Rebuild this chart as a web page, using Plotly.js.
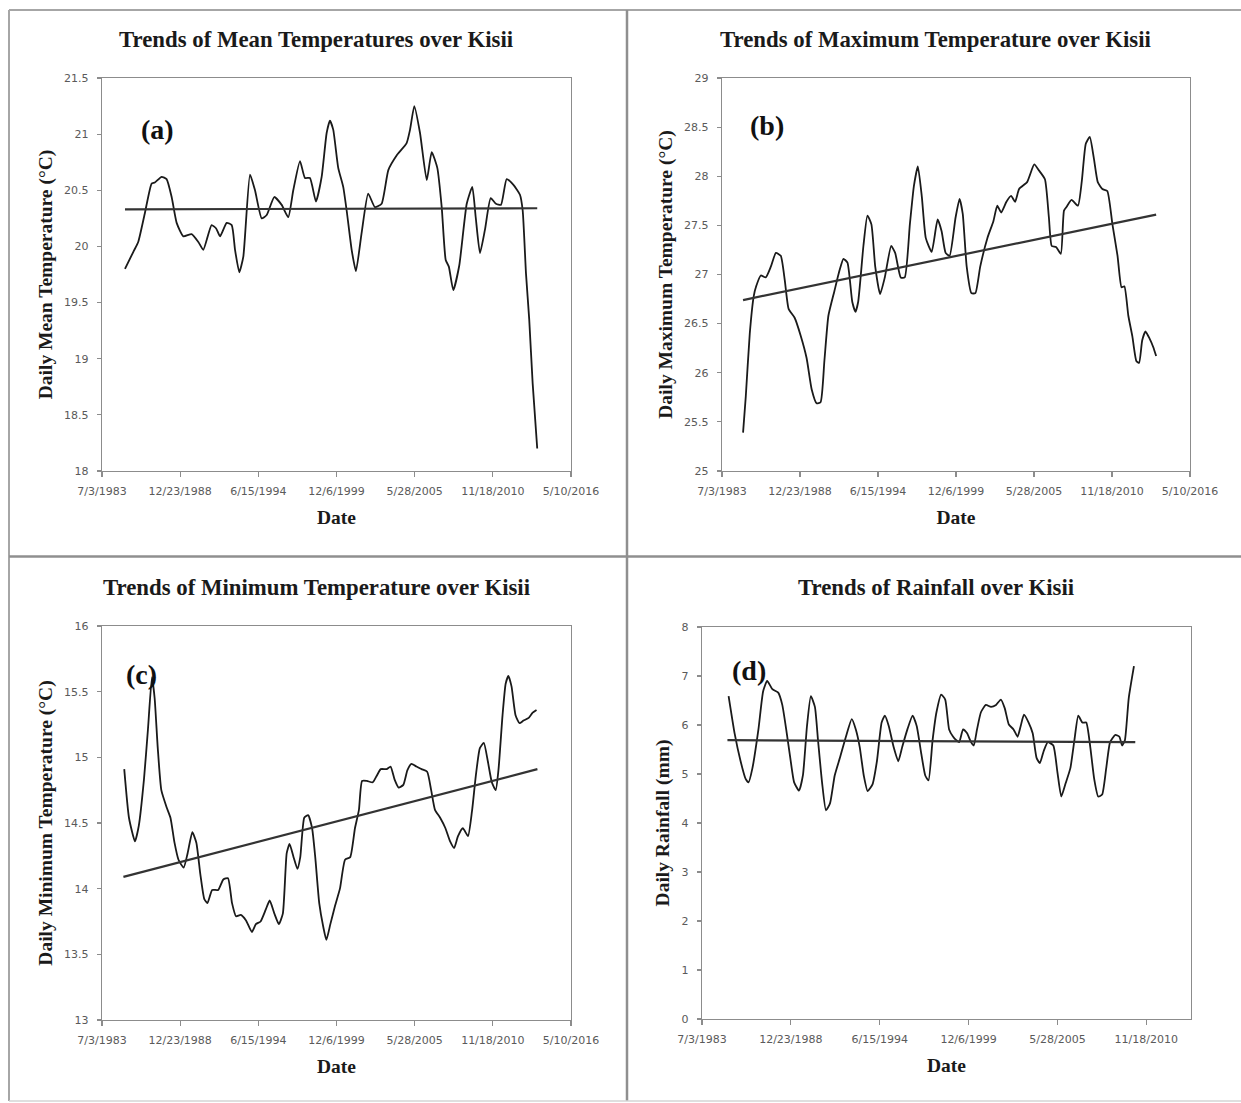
<!DOCTYPE html>
<html>
<head>
<meta charset="utf-8">
<script src="https://cdn.plot.ly/plotly-3.0.1.min.js"></script>
<style>
  html, body { margin: 0; padding: 0; background: #ffffff; }
  #chart { width: 1241px; height: 1103px; }
</style>
</head>
<body>
<div id="chart"></div>
<script>
// ---- Data (time as decimal years) ----
const meanYears = [1985.11,1985.69,1986.04,1986.51,1986.98,1987.2,1987.68,1988.03,1988.38,1988.73,1989.2,1989.78,1990.25,1990.6,1991.18,1991.5,1991.77,1992.24,1992.59,1992.82,1993.12,1993.4,1993.87,1994.22,1994.69,1995.04,1995.57,1996.09,1996.55,1996.9,1997.37,1997.72,1998.07,1998.49,1998.89,1999.24,1999.47,1999.7,2000.05,2000.4,2000.64,2000.99,2001.29,2001.69,2002.15,2002.62,2003.09,2003.56,2004.14,2004.84,2005.08,2005.38,2005.78,2006.25,2006.6,2006.99,2007.3,2007.58,2007.8,2008.11,2008.53,2009.05,2009.44,2009.68,2009.98,2010.33,2010.73,2011.1,2011.45,2011.85,2012.31,2012.78,2012.97,2013.2,2013.43,2013.67,2013.99];
const meanTemp = [19.80,19.95,20.04,20.30,20.56,20.57,20.62,20.60,20.44,20.21,20.09,20.11,20.04,19.97,20.19,20.16,20.09,20.21,20.19,19.97,19.77,19.91,20.64,20.50,20.25,20.28,20.44,20.37,20.26,20.50,20.76,20.61,20.61,20.40,20.62,21.01,21.12,21.04,20.70,20.53,20.32,19.97,19.78,20.12,20.47,20.35,20.38,20.68,20.81,20.92,21.04,21.25,21.01,20.59,20.84,20.70,20.35,19.88,19.82,19.61,19.83,20.38,20.53,20.26,19.94,20.15,20.43,20.38,20.37,20.60,20.55,20.46,20.32,19.76,19.35,18.78,18.20];
const meanTrendYears = [1985.11, 2013.99];
const meanTrend = [20.33, 20.34];

const maxYears = [1984.98,1985.17,1985.45,1985.73,1985.9,1986.23,1986.57,1986.93,1987.29,1987.63,1987.91,1988.18,1988.6,1989.02,1989.44,1989.8,1990.14,1990.42,1990.69,1990.97,1991.39,1991.75,1992.03,1992.31,1992.65,1992.87,1993.06,1993.43,1993.71,1993.99,1994.26,1994.6,1994.93,1995.38,1995.66,1996.05,1996.33,1996.69,1996.97,1997.25,1997.53,1997.81,1998.22,1998.64,1998.92,1999.2,1999.48,1999.9,2000.18,2000.4,2000.68,2001.01,2001.29,2001.63,2002.13,2002.55,2002.83,2003.1,2003.47,2003.8,2004.08,2004.36,2004.92,2005.42,2005.75,2006.17,2006.45,2006.65,2006.95,2007.29,2007.51,2007.7,2008.04,2008.49,2008.76,2009.04,2009.32,2009.6,2009.88,2010.21,2010.55,2010.91,2011.27,2011.55,2011.75,2012.03,2012.31,2012.59,2012.78,2013.0,2013.23,2013.51,2013.78,2013.98];
const maxTemp = [25.39,25.76,26.40,26.78,26.88,26.99,26.97,27.08,27.22,27.19,26.94,26.65,26.56,26.38,26.15,25.83,25.69,25.70,26.12,26.58,26.83,27.04,27.16,27.12,26.72,26.62,26.72,27.29,27.60,27.51,27.08,26.80,26.97,27.29,27.22,26.97,26.97,27.51,27.90,28.10,27.79,27.37,27.23,27.56,27.44,27.22,27.19,27.58,27.77,27.62,27.08,26.81,26.81,27.08,27.37,27.54,27.70,27.63,27.74,27.80,27.74,27.87,27.94,28.12,28.06,27.97,27.58,27.29,27.28,27.21,27.65,27.69,27.76,27.70,27.95,28.33,28.40,28.19,27.94,27.87,27.85,27.51,27.19,26.87,26.88,26.58,26.37,26.12,26.10,26.33,26.42,26.35,26.26,26.17];
const maxTrendYears = [1984.98, 2013.98];
const maxTrend = [26.74, 27.61];

const minYears = [1985.06,1985.39,1985.81,1986.08,1986.44,1986.72,1987.0,1987.19,1987.41,1987.66,1988.03,1988.3,1988.58,1988.86,1989.22,1989.5,1989.83,1990.11,1990.39,1990.67,1990.89,1991.22,1991.64,1992.0,1992.33,1992.61,1992.89,1993.22,1993.58,1994.0,1994.28,1994.61,1994.97,1995.25,1995.58,1995.89,1996.17,1996.44,1996.64,1996.92,1997.19,1997.39,1997.67,1997.94,1998.22,1998.44,1998.72,1999.0,1999.22,1999.5,1999.83,2000.17,2000.53,2000.89,2001.22,2001.5,2001.72,2002.06,2002.47,2002.75,2003.03,2003.44,2003.72,2004.0,2004.28,2004.61,2004.89,2005.17,2005.53,2005.89,2006.28,2006.56,2006.83,2007.19,2007.56,2007.89,2008.17,2008.44,2008.78,2009.14,2009.42,2009.69,2009.97,2010.25,2010.53,2010.81,2011.08,2011.28,2011.56,2011.78,2011.97,2012.19,2012.47,2012.75,2013.03,2013.39,2013.67,2013.94];
const minTemp = [14.91,14.54,14.36,14.48,14.83,15.21,15.61,15.45,15.07,14.75,14.62,14.54,14.35,14.22,14.16,14.27,14.43,14.35,14.11,13.92,13.89,13.99,13.99,14.07,14.08,13.89,13.79,13.80,13.76,13.67,13.73,13.75,13.84,13.91,13.81,13.73,13.81,14.27,14.34,14.24,14.15,14.24,14.54,14.56,14.46,14.24,13.89,13.71,13.61,13.73,13.87,14.00,14.22,14.24,14.46,14.60,14.82,14.82,14.81,14.86,14.91,14.91,14.93,14.83,14.77,14.79,14.90,14.95,14.93,14.91,14.89,14.75,14.60,14.54,14.46,14.36,14.31,14.40,14.46,14.40,14.59,14.86,15.07,15.11,14.97,14.81,14.75,14.91,15.32,15.56,15.62,15.54,15.32,15.26,15.28,15.30,15.34,15.36];
const minTrendYears = [1985.0, 2014.0];
const minTrend = [14.09, 14.91];

const rainYears = [1985.14,1985.51,1985.88,1986.19,1986.37,1986.61,1986.98,1987.27,1987.52,1987.84,1988.2,1988.45,1988.69,1988.94,1989.18,1989.48,1989.72,1989.97,1990.21,1990.46,1990.65,1990.9,1991.14,1991.39,1991.68,1992.0,1992.37,1992.73,1992.98,1993.22,1993.47,1993.71,1994.01,1994.28,1994.57,1994.77,1995.01,1995.31,1995.6,1995.84,1996.16,1996.48,1996.73,1997.02,1997.26,1997.46,1997.71,1997.95,1998.24,1998.49,1998.73,1998.98,1999.17,1999.35,1999.59,1999.84,2000.08,2000.25,2000.45,2000.69,2000.99,2001.31,2001.62,2001.92,2002.16,2002.41,2002.7,2002.95,2003.14,2003.34,2003.63,2003.88,2004.12,2004.32,2004.56,2004.81,2005.15,2005.4,2005.64,2005.89,2006.2,2006.45,2006.69,2006.94,2007.18,2007.43,2007.67,2007.92,2008.16,2008.41,2008.65,2008.97,2009.22,2009.39,2009.56,2009.8,2010.12];
const rainfall = [6.59,5.83,5.26,4.90,4.83,5.12,5.91,6.69,6.90,6.73,6.66,6.41,5.91,5.33,4.83,4.66,4.97,5.98,6.59,6.37,5.69,4.83,4.26,4.40,4.97,5.33,5.76,6.12,5.91,5.55,4.97,4.65,4.79,5.26,6.05,6.19,5.98,5.55,5.26,5.55,5.91,6.19,5.98,5.40,4.97,4.87,5.69,6.26,6.62,6.52,5.91,5.76,5.69,5.65,5.91,5.83,5.65,5.58,5.91,6.26,6.41,6.37,6.41,6.52,6.34,6.01,5.91,5.76,5.98,6.21,6.05,5.83,5.33,5.22,5.47,5.65,5.58,5.04,4.54,4.79,5.12,5.69,6.19,6.05,6.05,5.55,4.90,4.54,4.58,5.12,5.65,5.80,5.76,5.58,5.69,6.55,7.20];
const rainTrendYears = [1985.07, 2010.2];
const rainTrend = [5.69, 5.65];

// ---- Axis ticks ----
const tickDates = ['1983-07-03','1988-12-23','1994-06-15','1999-12-06','2005-05-28','2010-11-18','2016-05-10'];
const tickLabels = ['7/3/1983','12/23/1988','6/15/1994','12/6/1999','5/28/2005','11/18/2010','5/10/2016'];
const rainTickDates = tickDates.slice(0, 6);
const rainTickLabels = tickLabels.slice(0, 6);

const panelTitles = ['Trends of Mean Temperatures over Kisii','Trends of Maximum Temperature over Kisii','Trends of Minimum Temperature over Kisii','Trends of Rainfall over Kisii'];
const yTitles = ['Daily Mean Temperature (°C)','Daily Maximum Temperature (°C)','Daily Minimum Temperature (°C)','Daily Rainfall (mm)'];
const panelLetters = ['(a)','(b)','(c)','(d)'];

// decimal year -> ISO date string
function toDate(y) {
  const yr = Math.floor(y);
  const a = Date.UTC(yr, 0, 1), b = Date.UTC(yr + 1, 0, 1);
  return new Date(a + (y - yr) * (b - a)).toISOString().slice(0, 10);
}

const W = 1241, H = 1103;
const px = v => v / W;
const py = v => 1 - v / H;

const serif = 'Liberation Serif, Times New Roman, serif';
const sans = 'DejaVu Sans, Verdana, sans-serif';

const panels = [
  {years: meanYears, vals: meanTemp, tY: meanTrendYears, tV: meanTrend, x: [102, 571], y: [78, 471], yr: [18, 21.5], dy: 0.5, tv: tickDates, tt: tickLabels, xr: ['1983-07-03','2016-05-10'], title: [316, 39], letter: [0.119, 0.87]},
  {years: maxYears, vals: maxTemp, tY: maxTrendYears, tV: maxTrend, x: [722, 1190], y: [78, 471], yr: [25, 29], dy: 0.5, tv: tickDates, tt: tickLabels, xr: ['1983-07-03','2016-05-10'], title: [935, 39], letter: [0.097, 0.879]},
  {years: minYears, vals: minTemp, tY: minTrendYears, tV: minTrend, x: [102, 571], y: [626, 1020], yr: [13, 16], dy: 0.5, tv: tickDates, tt: tickLabels, xr: ['1983-07-03','2016-05-10'], title: [316, 587], letter: [0.085, 0.878]},
  {years: rainYears, vals: rainfall, tY: rainTrendYears, tV: rainTrend, x: [702, 1191], y: [627, 1019], yr: [0, 8], dy: 1, tv: rainTickDates, tt: rainTickLabels, xr: ['1983-07-03','2013-08-20'], title: [936, 587], letter: [0.096, 0.888]}
];

const traces = [];
const layout = {
  width: W, height: H,
  margin: {l: 0, r: 0, t: 0, b: 0},
  paper_bgcolor: '#ffffff',
  plot_bgcolor: '#ffffff',
  showlegend: false,
  annotations: [],
  shapes: []
};

panels.forEach((p, i) => {
  const n = i + 1;
  const xs = n === 1 ? '' : String(n);
  const xName = 'x' + xs, yName = 'y' + xs;

  traces.push({
    type: 'scatter', mode: 'lines', x: p.years.map(toDate), y: p.vals,
    xaxis: xName, yaxis: yName,
    line: {color: '#1a1a1a', width: 1.8, shape: 'spline', smoothing: 0.5},
    hoverinfo: 'skip'
  });
  traces.push({
    type: 'scatter', mode: 'lines', x: p.tY.map(toDate), y: p.tV,
    xaxis: xName, yaxis: yName,
    line: {color: '#333333', width: 2.2},
    hoverinfo: 'skip'
  });

  const axisCommon = {
    showline: true, linecolor: '#8c8c8c', linewidth: 1.3, mirror: true,
    showgrid: false, zeroline: false, tickcolor: '#8c8c8c', tickwidth: 1.2,
    tickfont: {family: sans, size: 11, color: '#5a5a5a'}
  };

  layout['xaxis' + xs] = Object.assign({}, axisCommon, {
    type: 'date', domain: [px(p.x[0]), px(p.x[1])], anchor: yName,
    range: p.xr, tickmode: 'array', tickvals: p.tv, ticktext: p.tt,
    ticks: 'outside', ticklen: 5, ticklabelstandoff: 4,
    title: {text: 'Date', font: {family: serif, size: 19.5, color: '#1a1a1a', weight: 'bold'}, standoff: 13}
  });
  layout['yaxis' + xs] = Object.assign({}, axisCommon, {
    domain: [py(p.y[1]), py(p.y[0])], anchor: xName,
    range: p.yr, dtick: p.dy, tick0: 0,
    ticks: 'outside', ticklen: 4, ticklabelstandoff: 6,
    title: {text: yTitles[i], font: {family: serif, size: 19.5, color: '#1a1a1a', weight: 'bold'}, standoff: 6}
  });
  // inner half of the crossing tick marks on the date axis
  layout['xaxis' + (n + 4)] = {
    type: 'date', overlaying: xName, anchor: yName, matches: xName,
    range: p.xr, tickmode: 'array', tickvals: p.tv,
    ticks: 'inside', ticklen: 5, tickcolor: '#8c8c8c', tickwidth: 1.2,
    showticklabels: false, showline: false, showgrid: false, zeroline: false
  };

  layout.annotations.push({
    xref: 'paper', yref: 'paper', x: px(p.title[0]), y: py(p.title[1]),
    xanchor: 'center', yanchor: 'middle', showarrow: false,
    text: panelTitles[i],
    font: {family: serif, size: 22.8, color: '#1a1a1a', weight: 'bold'}
  });
  layout.annotations.push({
    xref: xName + ' domain', yref: yName + ' domain', x: p.letter[0], y: p.letter[1],
    xanchor: 'center', yanchor: 'middle', showarrow: false,
    text: panelLetters[i],
    font: {family: serif, size: 28, color: '#111111', weight: 'bold'}
  });
});

// panel frames
const frame = '#8f8f8f';
layout.shapes.push(
  {type: 'line', xref: 'paper', yref: 'paper', x0: px(9), x1: 1, y0: py(10), y1: py(10), line: {color: '#a6a6a6', width: 2}},
  {type: 'line', xref: 'paper', yref: 'paper', x0: px(9), x1: px(9), y0: py(10), y1: py(1101), line: {color: '#a6a6a6', width: 2}},
  {type: 'line', xref: 'paper', yref: 'paper', x0: px(627), x1: px(627), y0: py(10), y1: py(1101), line: {color: frame, width: 2.5}},
  {type: 'line', xref: 'paper', yref: 'paper', x0: px(9), x1: 1, y0: py(556.5), y1: py(556.5), line: {color: frame, width: 2.5}},
  {type: 'line', xref: 'paper', yref: 'paper', x0: px(9), x1: 1, y0: py(1101), y1: py(1101), line: {color: '#d4d4d4', width: 1.5}}
);

Plotly.newPlot('chart', traces, layout, {staticPlot: true, displayModeBar: false});
</script>
</body>
</html>
